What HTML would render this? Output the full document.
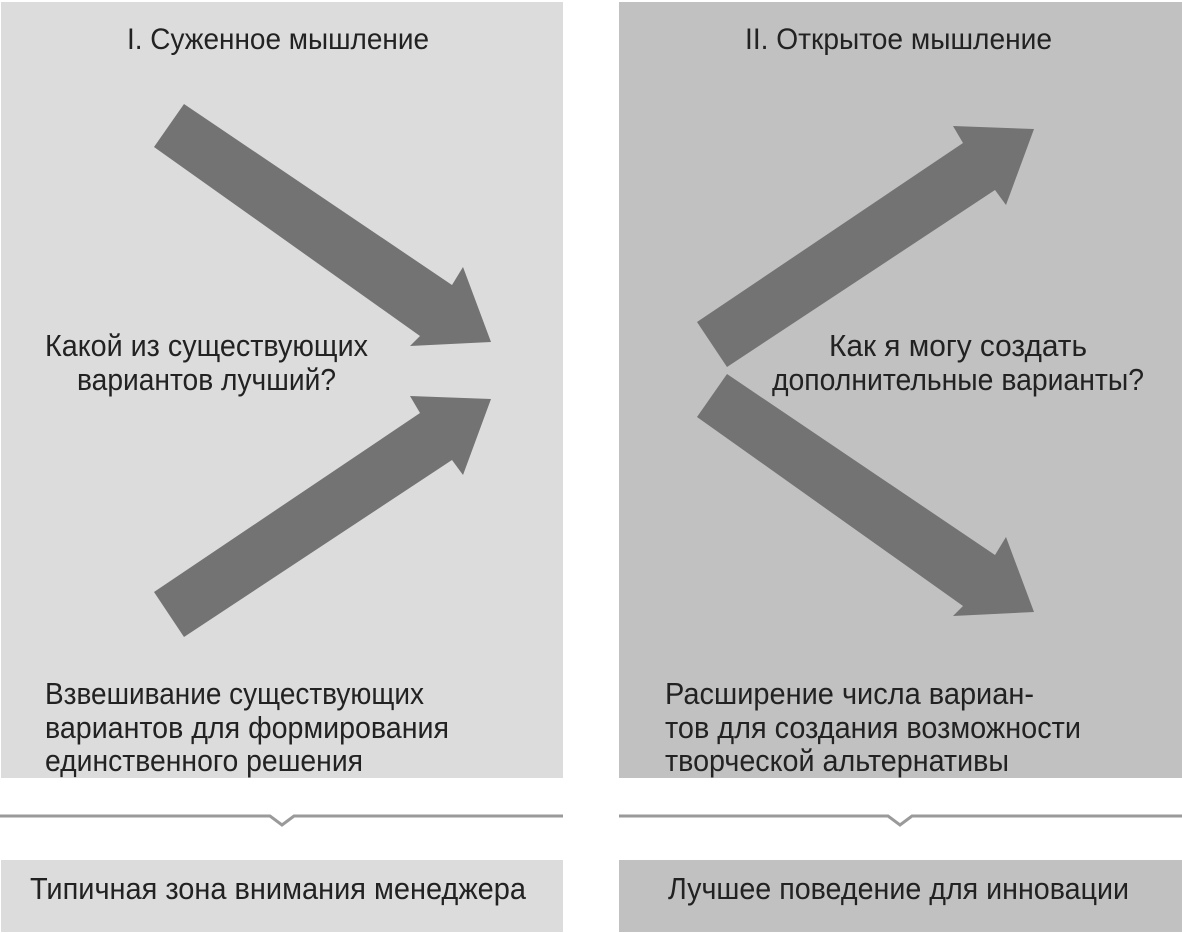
<!DOCTYPE html>
<html><head><meta charset="utf-8"><style>
html,body{margin:0;padding:0;background:#fff;}
svg{display:block}
text{font-family:"Liberation Sans Narrow","Liberation Sans",sans-serif;fill:#222;}
</style></head><body>
<svg width="1182" height="933" viewBox="0 0 1182 933" xmlns="http://www.w3.org/2000/svg">
<rect x="0" y="0" width="1182" height="933" fill="#fff"/>
<rect x="1" y="2" width="562" height="776" fill="#dcdcdc"/>
<rect x="619" y="2" width="563" height="776" fill="#c1c1c1"/>
<polygon fill="#737373" points="184,104 452,285 463,267 491,342 410,346 420,336 154,147"/>
<polygon fill="#737373" points="154,592 420,413 410,396 491,399 463,475 452,460 184,637"/>
<polygon fill="#737373" points="697,322 963,143 953,126 1034,129 1006,205 995,190 727,367"/>
<polygon fill="#737373" points="727,374 995,555 1006,537 1034,612 953,616 963,606 697,417"/>
<text x="127" y="49" font-size="30" textLength="302" lengthAdjust="spacingAndGlyphs">I. Суженное мышление</text>
<text x="745" y="49" font-size="30" textLength="307" lengthAdjust="spacingAndGlyphs">II. Открытое мышление</text>
<g font-size="31">
<text x="45" y="356" textLength="323" lengthAdjust="spacingAndGlyphs">Какой из существующих</text>
<text x="77" y="390" textLength="259" lengthAdjust="spacingAndGlyphs">вариантов лучший?</text>
<text x="45" y="704" textLength="379" lengthAdjust="spacingAndGlyphs">Взвешивание существующих</text>
<text x="45" y="738" textLength="404" lengthAdjust="spacingAndGlyphs">вариантов для формирования</text>
<text x="45" y="771" textLength="318" lengthAdjust="spacingAndGlyphs">единственного решения</text>
<text x="829" y="356" textLength="258" lengthAdjust="spacingAndGlyphs">Как я могу создать</text>
<text x="772" y="390" textLength="372" lengthAdjust="spacingAndGlyphs">дополнительные варианты?</text>
<text x="665" y="704" textLength="369" lengthAdjust="spacingAndGlyphs">Расширение числа вариан-</text>
<text x="665" y="738" textLength="416" lengthAdjust="spacingAndGlyphs">тов для создания возможности</text>
<text x="665" y="771" textLength="344" lengthAdjust="spacingAndGlyphs">творческой альтернативы</text>
</g>
<polyline fill="none" stroke="#9a9a9a" stroke-width="3" points="0,816 270,816 282,825 294,816 563,816"/>
<polyline fill="none" stroke="#9a9a9a" stroke-width="3" points="619,816 888,816 900,825 912,816 1182,816"/>
<rect x="1" y="860" width="562" height="72" fill="#dcdcdc"/>
<rect x="619" y="860" width="563" height="72" fill="#c1c1c1"/>
<text x="30" y="899" font-size="31" textLength="496" lengthAdjust="spacingAndGlyphs">Типичная зона внимания менеджера</text>
<text x="668" y="899" font-size="31" textLength="461" lengthAdjust="spacingAndGlyphs">Лучшее поведение для инновации</text>
</svg>
</body></html>
